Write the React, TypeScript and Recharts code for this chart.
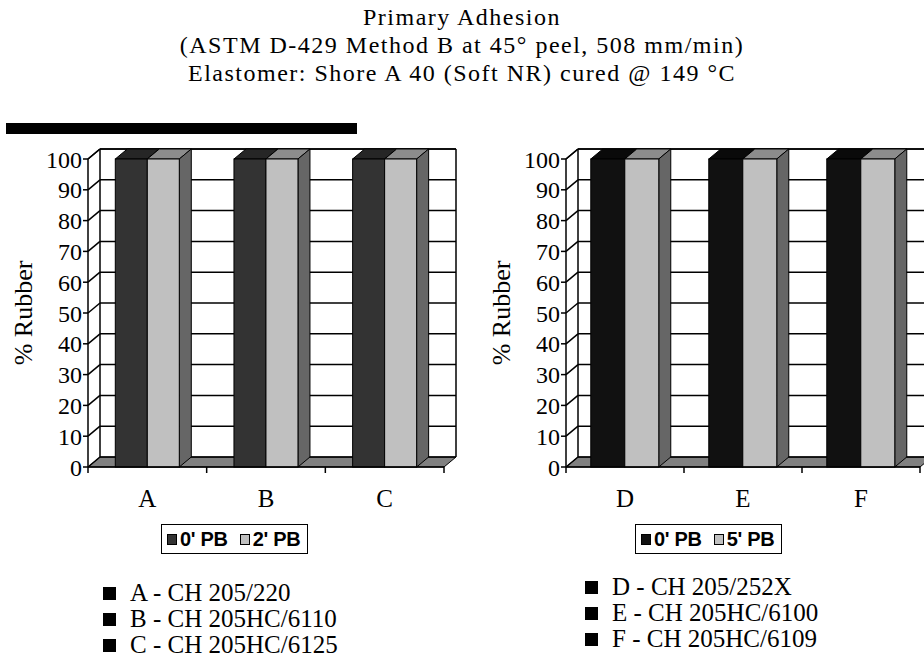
import React from 'react';
import { BarChart, Bar, XAxis, YAxis, CartesianGrid } from 'recharts';

// values
const leftCategories = ['A', 'B', 'C'];
const leftPb0 = [100, 100, 100];
const leftPb2 = [100, 100, 100];
const rightCategories = ['D', 'E', 'F'];
const rightPb0 = [100, 100, 100];
const rightPb5 = [100, 100, 100];
const yTicks = [0, 10, 20, 30, 40, 50, 60, 70, 80, 90, 100];

const titleLines = [
  'Primary Adhesion',
  '(ASTM D-429 Method B at 45° peel, 508 mm/min)',
  'Elastomer: Shore A 40 (Soft NR) cured @ 149 °C',
];
const leftNotes = ['A - CH 205/220', 'B - CH 205HC/6110', 'C - CH 205HC/6125'];
const rightNotes = ['D - CH 205/252X', 'E - CH 205HC/6100', 'F - CH 205HC/6109'];

const SERIF = '"Liberation Serif", "Times New Roman", Times, serif';
const SANS = '"Liberation Sans", Arial, sans-serif';
const DX = 12;
const DY = 10;

const leftData = leftCategories.map((name, i) => ({ name, pb0: leftPb0[i], pb2: leftPb2[i] }));
const rightData = rightCategories.map((name, i) => ({ name, pb0: rightPb0[i], pb5: rightPb5[i] }));

// 3D column: front face, top face and right side face
const column = (front: string, top: string, side: string) => (props: any) => {
  const { x, y, width, height } = props;
  if (x == null || !width) return <g />;
  const r = x + width;
  const b = y + height;
  return (
    <g>
      <polygon points={`${x},${y} ${x + DX},${y - DY} ${r + DX},${y - DY} ${r},${y}`} fill={top} stroke="#000" />
      <polygon points={`${r},${y} ${r + DX},${y - DY} ${r + DX},${b - DY} ${r},${b}`} fill={side} stroke="#000" />
      <rect x={x} y={y} width={width} height={height} fill={front} stroke="#000" />
    </g>
  );
};

// back wall, side wall and floor drawn from the grid lines
const wallLine = (props: any) => {
  const { x1, y1, x2, index, x, y, width, height } = props;
  let frame = null;
  if (index === 0 && typeof y === 'number' && typeof height === 'number') {
    const l = x;
    const r = x + width;
    const t = y;
    const b = y + height;
    frame = (
      <g>
        <polygon points={`${l},${b} ${l + DX},${b - DY} ${r + DX},${b - DY} ${r},${b}`} fill="#808080" stroke="#000" />
        <line x1={l + DX} y1={t - DY} x2={l + DX} y2={b - DY} stroke="#000" strokeWidth={1.5} />
        <line x1={r + DX} y1={t - DY} x2={r + DX} y2={b - DY} stroke="#000" strokeWidth={1.5} />
        <line x1={l + DX} y1={t - DY} x2={r + DX} y2={t - DY} stroke="#000" strokeWidth={1.5} />
        <line x1={l} y1={t} x2={l + DX} y2={t - DY} stroke="#000" strokeWidth={1.5} />
      </g>
    );
  }
  return (
    <g key={`wall-${index}`}>
      {frame}
      <line x1={x1} y1={y1} x2={x1 + DX} y2={y1 - DY} stroke="#000" strokeWidth={1.5} />
      <line x1={x1 + DX} y1={y1 - DY} x2={x2 + DX} y2={y1 - DY} stroke="#000" strokeWidth={1.5} />
    </g>
  );
};

const categoryTick = (props: any) => {
  const { x, y, payload } = props;
  const off = payload && payload.offset ? payload.offset : 0;
  return (
    <g>
      <line x1={x + off} y1={y} x2={x + off} y2={y + 6} stroke="#000" strokeWidth={1.5} />
      {payload.index === 0 && <line x1={x - off} y1={y} x2={x - off} y2={y + 6} stroke="#000" strokeWidth={1.5} />}
      <text x={x} y={y + 40} textAnchor="middle" fill="#000" fontSize={25} fontFamily={SERIF}>
        {payload.value}
      </text>
    </g>
  );
};

const yLabel = (props: any) => {
  const vb = props.viewBox || { x: 0, y: 59, width: 88, height: 308 };
  const cx = vb.x + 23;
  const cy = vb.y + vb.height / 2;
  return (
    <text
      x={cx}
      y={cy}
      transform={`rotate(-90 ${cx} ${cy})`}
      textAnchor="middle"
      dominantBaseline="central"
      fontSize={26}
      fontFamily={SERIF}
      fill="#000"
    >
      % Rubber
    </text>
  );
};

function Panel({ data, keys, colors, gap, width }: any) {
  return (
    <BarChart
      width={width}
      height={420}
      data={data}
      margin={{ top: 59, right: 26, bottom: 13, left: 0 }}
      barCategoryGap={gap}
      barGap={0}
    >
      <CartesianGrid horizontal={wallLine} vertical={false} />
      <XAxis
        dataKey="name"
        height={40}
        tickLine={false}
        tickSize={0}
        tickMargin={0}
        axisLine={{ stroke: '#000', strokeWidth: 1.5 }}
        tick={categoryTick}
        interval={0}
      />
      <YAxis
        width={88}
        domain={[0, 100]}
        ticks={yTicks}
        interval={0}
        tickSize={5}
        tickMargin={1}
        axisLine={{ stroke: '#000', strokeWidth: 1.5 }}
        tickLine={{ stroke: '#000', strokeWidth: 1.5 }}
        tick={{ fill: '#000', fontSize: 24, fontFamily: SERIF }}
        label={yLabel}
      />
      <Bar dataKey={keys[0]} shape={column(colors[0], colors[1], colors[0])} isAnimationActive={false} />
      <Bar dataKey={keys[1]} shape={column('#c0c0c0', '#8c8c8c', '#666666')} isAnimationActive={false} />
    </BarChart>
  );
}

function LegendBox({ left, items }: any) {
  return (
    <div
      style={{
        position: 'absolute',
        left,
        top: 524,
        height: 28,
        border: '1px solid #000',
        padding: '0 7px 0 5px',
        display: 'flex',
        alignItems: 'center',
        gap: 3,
        font: `bold 20px ${SANS}`,
        letterSpacing: '-0.3px',
        whiteSpace: 'nowrap',
      }}
    >
      {items.map((it: any, i: number) => (
        <React.Fragment key={it.label}>
          <span style={{ width: 8, height: 9, background: it.color, border: '1px solid #000', display: 'inline-block' }} />
          <span style={{ marginRight: i === 0 ? 9 : 0 }}>{it.label}</span>
        </React.Fragment>
      ))}
    </div>
  );
}

function Notes({ left, top, lines }: any) {
  return (
    <div style={{ position: 'absolute', left, top, fontFamily: SERIF, fontSize: 25, lineHeight: '26px' }}>
      {lines.map((t: string) => (
        <div key={t} style={{ display: 'flex', alignItems: 'center', whiteSpace: 'nowrap', height: 26 }}>
          <span style={{ width: 13, height: 13, background: '#000', display: 'inline-block', marginRight: 14 }} />
          {t}
        </div>
      ))}
    </div>
  );
}

export default function App() {
  return (
    <div
      style={{
        position: 'absolute',
        left: 0,
        top: 0,
        width: 924,
        height: 668,
        overflow: 'hidden',
        background: '#fff',
        fontFamily: SERIF,
      }}
    >
      {titleLines.map((t, i) => (
        <div
          key={t}
          style={{
            position: 'absolute',
            left: 0,
            width: 924,
            top: [3, 31, 59][i],
            textAlign: 'center',
            fontSize: 24,
            letterSpacing: '1.5px',
            lineHeight: '28px',
          }}
        >
          {t}
        </div>
      ))}
      <div style={{ position: 'absolute', left: 6, top: 123, width: 351, height: 11, background: '#000' }} />

      <div style={{ position: 'absolute', left: 0, top: 100 }}>
        <Panel data={leftData} keys={['pb0', 'pb2']} colors={['#333333', '#262626']} gap="23%" width={470} />
      </div>
      <div style={{ position: 'absolute', left: 478, top: 100 }}>
        <Panel data={rightData} keys={['pb0', 'pb5']} colors={['#111111', '#0a0a0a']} gap="21%" width={468} />
      </div>

      <LegendBox
        left={161}
        items={[
          { label: "0' PB", color: '#333333' },
          { label: "2' PB", color: '#c0c0c0' },
        ]}
      />
      <LegendBox
        left={635}
        items={[
          { label: "0' PB", color: '#111111' },
          { label: "5' PB", color: '#c0c0c0' },
        ]}
      />

      <Notes left={103} top={580} lines={leftNotes} />
      <Notes left={585} top={574} lines={rightNotes} />
    </div>
  );
}
